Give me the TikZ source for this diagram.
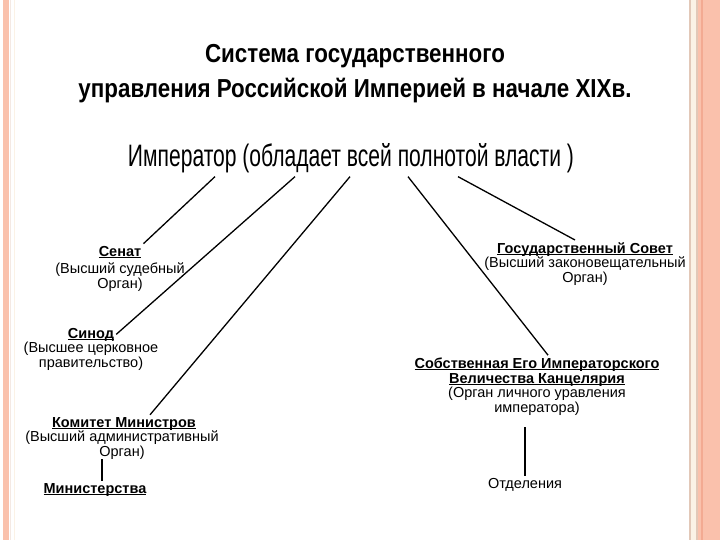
\documentclass[tikz,border=0pt]{standalone}
\usepackage{fontspec}
\setmainfont{Liberation Sans}
\newfontfamily\narrowfont[FakeStretch=0.86]{Liberation Sans}
\newfontfamily\slimfont[FakeStretch=0.68]{Liberation Sans}

\definecolor{frame}{HTML}{FAC1AC}
\definecolor{framedark}{HTML}{F3AA92}
\definecolor{frametan}{HTML}{E2C8B8}
\definecolor{framecream}{HTML}{FBF2E6}

% underline at a fixed depth, through the descenders
\newcommand\orgul[1]{\leavevmode\setbox0=\hbox{#1}\rlap{\rule[-2pt]{\wd0}{0.9pt}}\box0}

\tikzset{
	orghead/.style={font=\bfseries\fontsize{14.5}{15}\selectfont, align=center, inner sep=2pt, anchor=base},
	orgtext/.style={font=\fontsize{14.5}{15}\selectfont, align=center, inner sep=0pt, anchor=base},
	link/.style={line width=1.3pt}
}

\begin{document}
\begin{tikzpicture}[
	x=1pt,
	y=-1pt
	]
	\useasboundingbox (0,0) rectangle (720,540);

	% --- page frame ---
	\fill[white] (0,0) rectangle (720,540);
	\fill[frame] (3,0) rectangle (9,540);
	\fill[frametan!40] (10,0) rectangle (11,540);
	\fill[framecream] (13.5,0) rectangle (14.5,540);
	\fill[frametan] (689,0) rectangle (691,540);
	\fill[framecream] (691,0) rectangle (696,540);
	\fill[frametan] (696,0) rectangle (698,540);
	\fill[frame] (698,0) rectangle (720,540);
	\fill[framedark] (701,0) rectangle (703,540);

	% --- heading (base = last line) ---
	\node[font=\narrowfont\bfseries\fontsize{26}{35}\selectfont, align=center, anchor=base, inner sep=0pt]
		(title) at (355,98) {Система государственного\\управления Российской Империей в начале XIXв.};
	\node[font=\slimfont\fontsize{31}{35}\selectfont, anchor=base, inner sep=3pt]
		(emp) at (351,167) {Император (обладает всей полнотой власти )};

	% left branch
	\node[orghead] (senat) at (120,256) {\orgul{Сенат}};
	\node[orgtext] (senatTxt) at (120,288) {(Высший судебный\\Орган)};
	\node[orghead] (sinod) at (91,338) {\orgul{Синод}};
	\node[orgtext] (sinodTxt) at (91,367) {(Высшее церковное\\правительство)};
	\node[orghead] (komitet) at (124,427) {\orgul{Комитет Министров}};
	\node[orgtext] (komitetTxt) at (122,456) {(Высший административный\\Орган)};
	\node[orghead] (ministr) at (95,493) {\orgul{Министерства}};

	% right branch
	\node[orghead] (gossov) at (585,253) {\orgul{Государственный Совет}};
	\node[orgtext] (gossovTxt) at (585,282) {(Высший законовещательный\\Орган)};
	\node[orghead] (sobst) at (537,383) {\orgul{Собственная Его Императорского}\\\orgul{Величества Канцелярия}};
	\node[orgtext] (sobstTxt) at (537,412) {(Орган личного уравления\\императора)};
	\node[orgtext] (otdel) at (525,488) {Отделения};

	% connectors from the emperor
	\draw[link] ([xshift=-136pt]emp.south) -- (senat.north east);
	\draw[link] ([xshift=-56pt]emp.south) -- (sinod.east);
	\draw[link] ([xshift=-1pt]emp.south) -- ([xshift=26pt]komitet.north);
	\draw[link] ([xshift=57pt]emp.south) -- ([xshift=11pt]sobst.north);
	\draw[link] ([xshift=107pt]emp.south) -- ([xshift=-10pt]gossov.north);

	% subordinate bodies
	\draw[link] ([xshift=7pt]ministr.north) -- ([xshift=7pt]ministr.north |- komitetTxt.south);
	\draw[link] ([yshift=2pt]otdel.north) -- ([yshift=-12pt]otdel.north |- sobstTxt.south);
\end{tikzpicture}
\end{document}
